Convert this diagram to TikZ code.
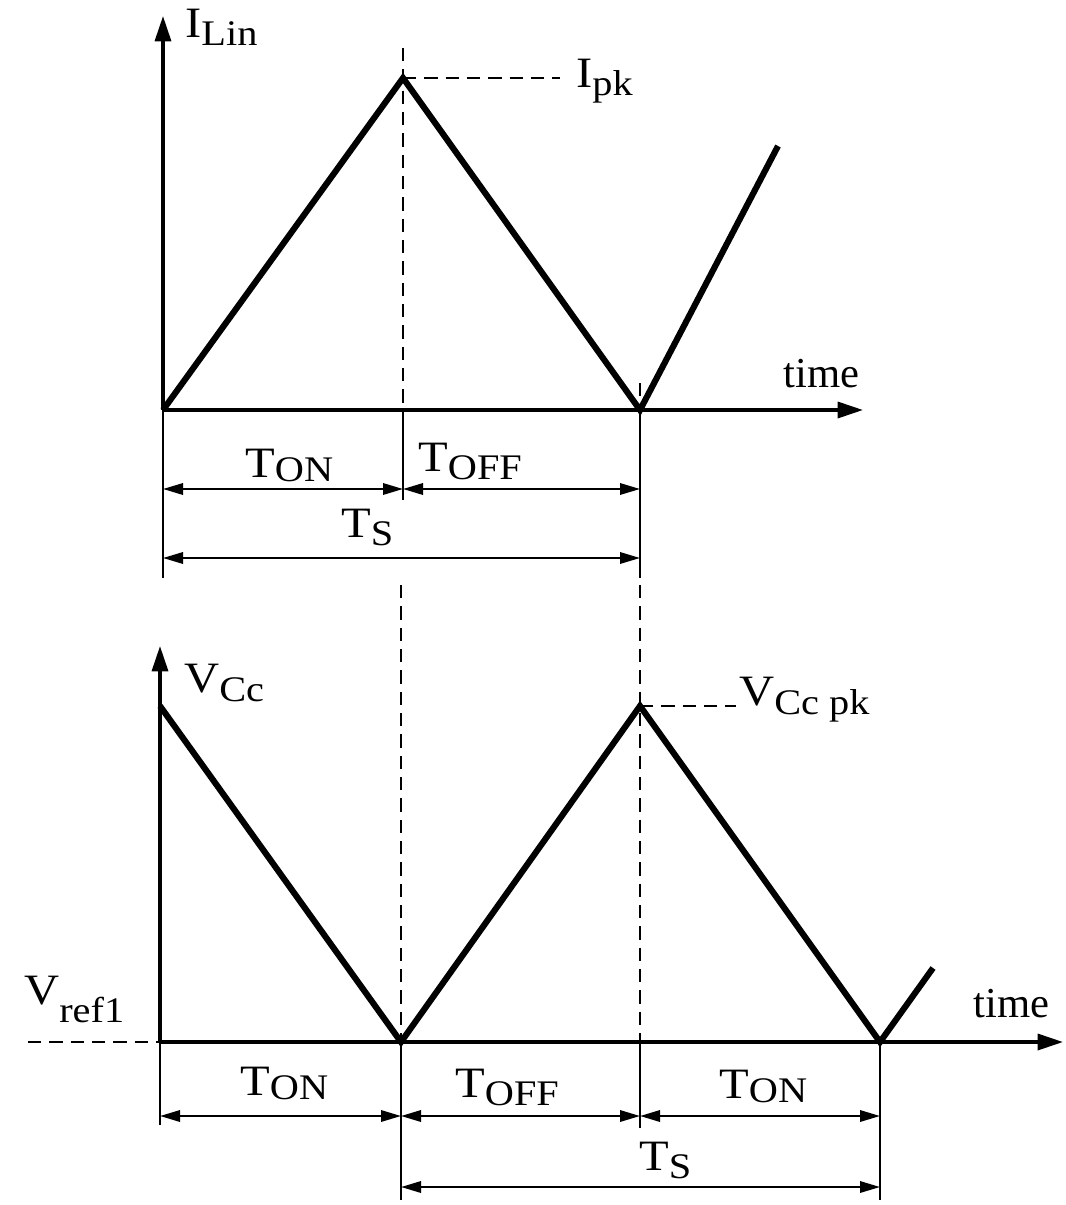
\documentclass[tikz,border=0pt]{standalone}
\usepackage{fontspec}
\setmainfont{Liberation Serif}
\usetikzlibrary{arrows.meta}
\newcommand\mainsz{\fontsize{32.5}{32.5}\selectfont}
\newcommand\subsz{\fontsize{27}{27}\selectfont}
\newcommand\lbl[3][-5pt]{\scalebox{1.12}[1]{\mainsz #2\raisebox{#1}{\subsz #3}}}
\begin{document}
\begin{tikzpicture}[x=0.75pt,y=-0.75pt,
  wave/.style={line width=4.6pt, line join=miter},
  axis/.style={line width=2.5pt, -{Triangle[length=19pt,width=12pt]}},
  dim/.style={line width=1.7pt, {Triangle[length=15pt,width=8.5pt]}-{Triangle[length=15pt,width=8.5pt]}},
  tick/.style={line width=1.4pt},
  guide/.style={line width=1.5pt, dash pattern=on 10pt off 6pt},
  lab/.style={anchor=base west, inner sep=0pt}]
\useasboundingbox (0,0) rectangle (1065,1205);
% ---------- top panel ----------
\coordinate (O1) at (163,410);
\coordinate (Y1) at (163,16);
\coordinate (X1) at (863,410);
\coordinate (P1) at (403,78);
\coordinate (V1) at (640,410);
\coordinate (E1) at (778,146);
\draw[axis] (O1) -- (Y1);
\draw[axis] (O1) -- (X1);
\draw[wave] (O1) -- (P1) -- (V1) -- (E1);
% guides
\coordinate (G1a) at (403,48);
\coordinate (G1b) at (403,410);
\draw[guide] (G1a) -- (G1b);
\coordinate (Ipkend) at (560,78);
\draw[guide] (P1) -- (Ipkend);
\coordinate (G2a) at (640,383);
\draw[guide] (G2a) -- (V1);
% ticks
\coordinate (T1a) at (163,578);
\coordinate (T1b) at (403,500);
\coordinate (T1c) at (640,578);
\draw[tick] (O1) -- (T1a);
\draw[tick] (G1b) -- (T1b);
\draw[tick] (V1) -- (T1c);
% dimension arrows
\coordinate (D1a) at (163,489);
\coordinate (D1b) at (403,489);
\coordinate (D1c) at (640,489);
\coordinate (S1a) at (163,558);
\coordinate (S1b) at (640,558);
\draw[dim] (D1a) -- (D1b);
\draw[dim] (D1b) -- (D1c);
\draw[dim] (S1a) -- (S1b);
% labels
\node[lab] (ILin) at (185,38) {\lbl[-6pt]{I}{Lin}};
\node[lab] (Ipk) at (576,88) {\lbl[-6pt]{I}{pk}};
\node[lab] (time1) at (783,387) {\fontsize{32}{32}\selectfont time};
\node[lab] (Ton1) at (245,477) {\lbl[-3pt]{T}{ON}};
\node[lab] (Toff1) at (418,471) {\lbl[-6pt]{T}{OFF}};
\node[lab] (Ts1) at (341,537) {\lbl[-6pt]{T}{S}};
% ---------- bottom panel ----------
\coordinate (O2) at (160,1042);
\coordinate (Y2) at (160,646);
\coordinate (X2) at (1063,1042);
\coordinate (L2) at (28,1042);
\coordinate (A2) at (160,706);
\coordinate (B2) at (401,1042);
\coordinate (C2) at (640,706);
\coordinate (D2) at (880,1042);
\coordinate (E2) at (933,968);
\draw[axis] (O2) -- (Y2);
\draw[axis] (O2) -- (X2);
\draw[guide] (L2) -- (O2);
\draw[wave] (A2) -- (B2) -- (C2) -- (D2) -- (E2);
% guides
\coordinate (G3a) at (401,585);
\coordinate (G4a) at (640,585);
\coordinate (G4b) at (640,1042);
\draw[guide] (G3a) -- (B2);
\draw[guide] (G4a) -- (G4b);
\coordinate (Vpkend) at (736,706);
\draw[guide] (C2) -- (Vpkend);
% ticks
\coordinate (T2a) at (160,1125);
\coordinate (T2b) at (401,1200);
\coordinate (T2c) at (640,1128);
\coordinate (T2d) at (880,1200);
\draw[tick] (O2) -- (T2a);
\draw[tick] (B2) -- (T2b);
\draw[tick] (G4b) -- (T2c);
\draw[tick] (D2) -- (T2d);
% dimension arrows
\coordinate (D2a) at (160,1116);
\coordinate (D2b) at (401,1116);
\coordinate (D2c) at (640,1116);
\coordinate (D2d) at (880,1116);
\coordinate (S2a) at (401,1187);
\coordinate (S2b) at (880,1187);
\draw[dim] (D2a) -- (D2b);
\draw[dim] (D2b) -- (D2c);
\draw[dim] (D2c) -- (D2d);
\draw[dim] (S2a) -- (S2b);
% labels
\node[lab] (VCc) at (184,692) {\lbl[-7pt]{V}{Cc}};
\node[lab] (VCcpk) at (739,705) {\lbl[-7pt]{V}{Cc pk}};
\node[lab] (Vref) at (24,1004) {\lbl[-14pt]{V}{ref1}};
\node[lab] (time2) at (973,1017) {\fontsize{32}{32}\selectfont time};
\node[lab] (Ton2) at (240,1095) {\lbl[-3pt]{T}{ON}};
\node[lab] (Toff2) at (455,1097) {\lbl[-6pt]{T}{OFF}};
\node[lab] (Ton3) at (719,1098) {\lbl[-3pt]{T}{ON}};
\node[lab] (Ts2) at (639,1170) {\lbl[-6pt]{T}{S}};
\end{tikzpicture}
\end{document}
